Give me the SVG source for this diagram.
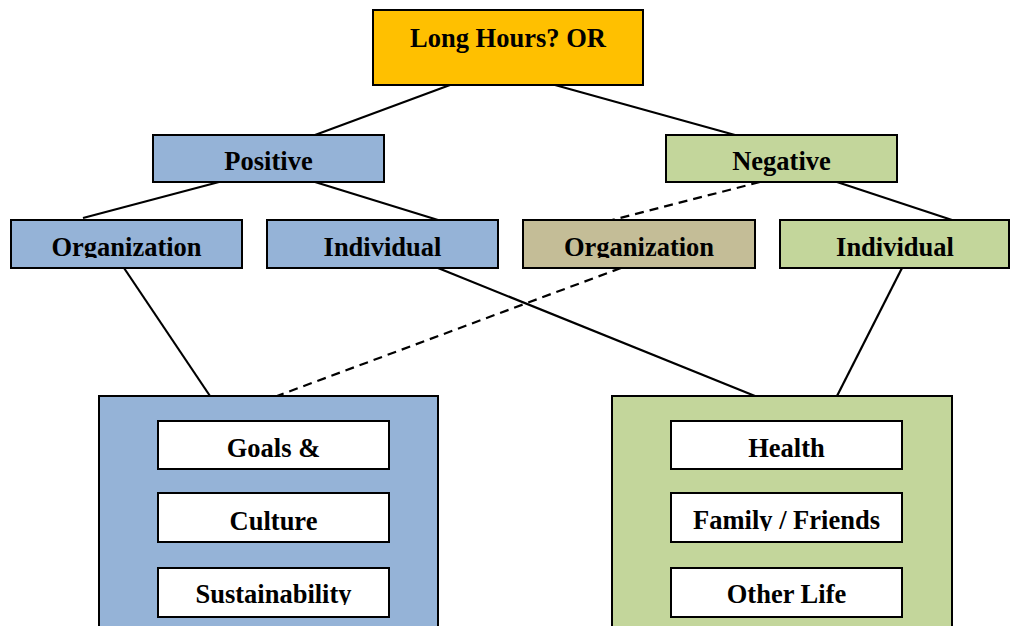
<svg xmlns="http://www.w3.org/2000/svg" width="1010" height="626" viewBox="0 0 1010 626">
<style>
.box{stroke:#000;stroke-width:2}
.blue{fill:#95B3D7}
.green{fill:#C3D69B}
.tan{fill:#C4BD97}
.orange{fill:#FFC000}
.white{fill:#fff}
.t{font-family:"Liberation Serif","Times New Roman",serif;font-weight:bold;font-size:26.5px;text-anchor:middle;fill:#000}
.c{stroke:#000;stroke-width:2.2;fill:none}
.d{stroke-dasharray:9,6}
</style>
<defs>
<clipPath id="cRow"><rect x="0" y="200" width="1010" height="58"/></clipPath>
<clipPath id="cFam"><rect x="660" y="490" width="250" height="41"/></clipPath>
<clipPath id="cSus"><rect x="150" y="565" width="250" height="40"/></clipPath>
</defs>
<g id="connectors">
<line class="c" x1="450" y1="85" x2="315" y2="135"/>
<line class="c" x1="555" y1="85" x2="735" y2="135"/>
<line class="c" x1="219" y1="182" x2="83" y2="218"/>
<line class="c" x1="315" y1="182" x2="438" y2="220"/>
<line class="c d" x1="760" y1="182" x2="612" y2="220"/>
<line class="c" x1="837" y1="182" x2="952" y2="220"/>
<line class="c" x1="124" y1="268" x2="210" y2="396"/>
<line class="c d" x1="621" y1="268" x2="277" y2="396"/>
<line class="c" x1="438" y1="268" x2="755" y2="396"/>
<line class="c" x1="902" y1="268" x2="837" y2="396"/>
</g>
<g id="root">
<rect class="box orange" x="373" y="10" width="270" height="75"/>
<text class="t" x="508" y="47">Long Hours? OR</text>
</g>
<g id="positive">
<rect class="box blue" x="153" y="135" width="231" height="47"/>
<text class="t" x="268.5" y="170">Positive</text>
</g>
<g id="negative">
<rect class="box green" x="666" y="135" width="231" height="47"/>
<text class="t" x="781.5" y="170">Negative</text>
</g>
<g id="pos-org">
<rect class="box blue" x="11" y="220" width="231" height="48"/>
<text class="t" x="126.5" y="256" clip-path="url(#cRow)">Organization</text>
</g>
<g id="pos-ind">
<rect class="box blue" x="267" y="220" width="231" height="48"/>
<text class="t" x="382.5" y="256" clip-path="url(#cRow)">Individual</text>
</g>
<g id="neg-org">
<rect class="box tan" x="523" y="220" width="232" height="48"/>
<text class="t" x="639" y="256" clip-path="url(#cRow)">Organization</text>
</g>
<g id="neg-ind">
<rect class="box green" x="780" y="220" width="229" height="48"/>
<text class="t" x="895" y="256" clip-path="url(#cRow)">Individual</text>
</g>
<g id="org-group">
<rect class="box blue" x="99" y="396" width="339" height="240"/>
<g id="goals">
<rect class="box white" x="158" y="421" width="231" height="48"/>
<text class="t" x="273.5" y="457">Goals &amp;</text>
</g>
<g id="culture">
<rect class="box white" x="158" y="493" width="231" height="49"/>
<text class="t" x="273.5" y="530">Culture</text>
</g>
<g id="sustainability">
<rect class="box white" x="158" y="568" width="231" height="49"/>
<text class="t" x="273.5" y="603" clip-path="url(#cSus)">Sustainability</text>
</g>
</g>
<g id="ind-group">
<rect class="box green" x="612" y="396" width="340" height="240"/>
<g id="health">
<rect class="box white" x="671" y="421" width="231" height="48"/>
<text class="t" x="786.5" y="457">Health</text>
</g>
<g id="family">
<rect class="box white" x="671" y="493" width="231" height="49"/>
<text class="t" x="786.5" y="529" clip-path="url(#cFam)">Family / Friends</text>
</g>
<g id="other">
<rect class="box white" x="671" y="568" width="231" height="49"/>
<text class="t" x="786.5" y="603">Other Life</text>
</g>
</g>
</svg>
